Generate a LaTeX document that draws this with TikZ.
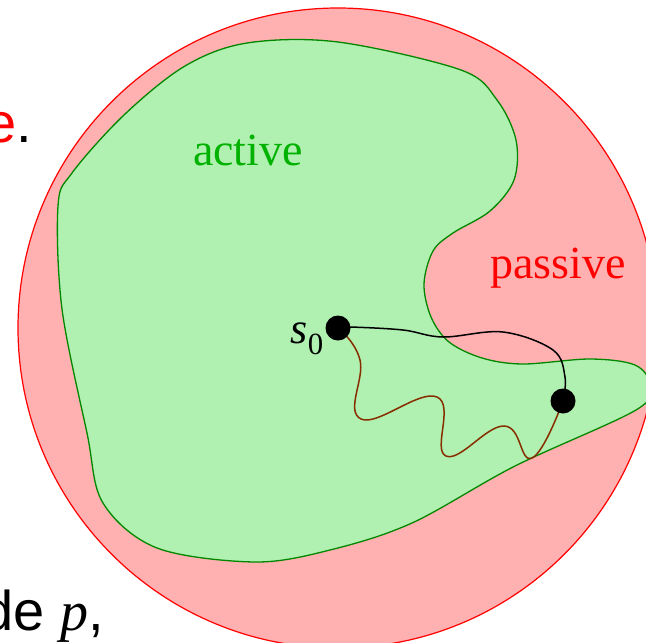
\documentclass[tikz,border=0pt]{standalone}
\usepackage{fontspec}
\setmainfont{Liberation Serif}
\newfontfamily\slidefont{Liberation Sans}
\usepackage{tikz}
\usetikzlibrary{calc}
\definecolor{passivefill}{RGB}{255,176,176}
\definecolor{activefill}{RGB}{176,240,176}
\definecolor{activeline}{RGB}{0,135,0}
\definecolor{activetext}{RGB}{0,178,0}
\definecolor{walkbrown}{RGB}{135,45,0}
\begin{document}
\begin{tikzpicture}[x=1pt,y=-1pt,
    dot/.style={circle,fill=black,inner sep=0pt,minimum size=25pt},
    region/.style={inner sep=0pt,font=\fontsize{46}{50}\selectfont},
    slide/.style={inner sep=0pt,anchor=base west,font=\slidefont\fontsize{56}{60}\selectfont}]
    \useasboundingbox (0,0) rectangle (646,643);
    \clip (0,0) rectangle (646,643);
    \def\R{320}
    \coordinate (c) at (338,328);
    \coordinate (s0) at (338,328);
    \coordinate (s1) at (563,401);
    \filldraw[fill=passivefill, draw=red, line width=1.2pt] (c) circle (\R);
    \filldraw[fill=activefill, draw=activeline, line width=1.3pt]
      plot[smooth cycle, tension=0.55] coordinates {
        (247,43) (338,42) (461,70) (497,100) (516,140) (514,180)
        (490,211) (453,233) (433,251) (424,284) (431,317) (449,342)
        (482,358) (523,364) (590,359) (635,365) (650,385) (636,410)
        (515,466) (412,523) (330,550) (255,562) (157,548) (103,503)
        (87,433) (62,309) (58,206) (72,173) (124,115) (185,66)};
    \node[region, text=activetext, anchor=base] (active) at (248,165) {active};
    \node[region, text=red, anchor=base] (passive) at (558,278) {passive};
    \draw[line width=1.5pt] plot[smooth, tension=0.6] coordinates {
        (s0) (350,327) (403,330) (443,337) (503,332) (553,350) (565,377) (s1)};
    \draw[walkbrown, line width=1.5pt] plot[smooth, tension=0.75] coordinates {
        (s0) (360,360) (361,419) (437,397) (446,456) (504,426) (532,458) (s1)};
    \node[dot] (start) at (s0) {};
    \node[dot] (goal) at (s1) {};
    \node[inner sep=0pt, anchor=base east, font=\fontsize{44}{48}\selectfont] (s0label) at (324,343) {\textit{s}\textsubscript{0}};
    \node[slide] (tailtop) at (-15,142) {\textcolor{red}{e}.};
    \node[slide] (tailbottom) at (-18,630) {de {\rmfamily\itshape p},};
  \end{tikzpicture}
\end{document}
